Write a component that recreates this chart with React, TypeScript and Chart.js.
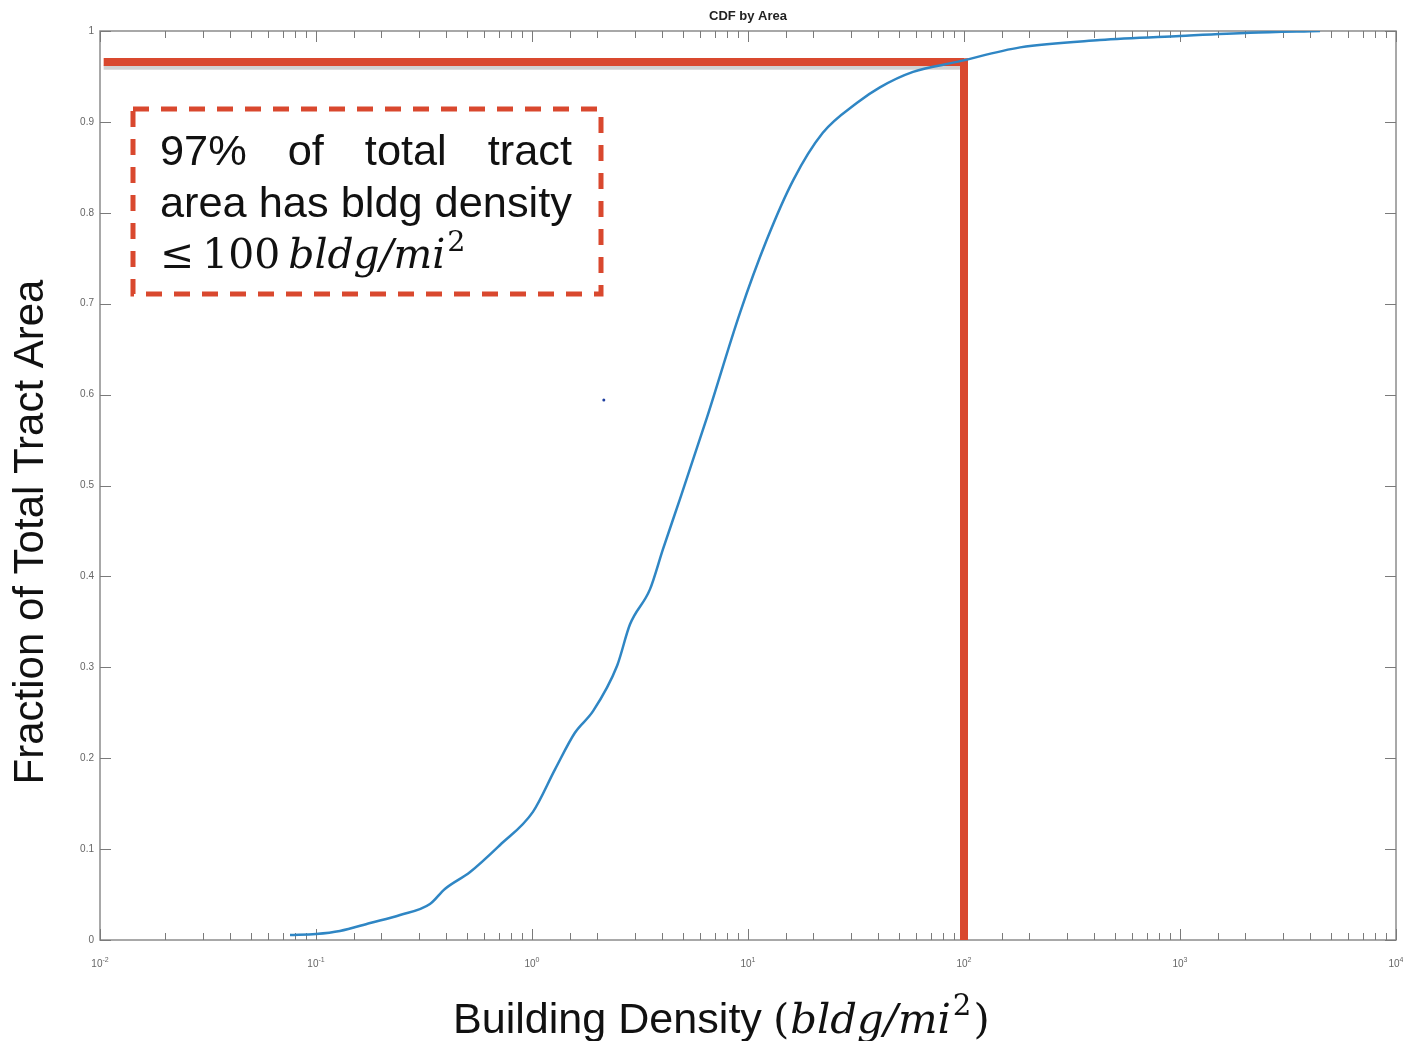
import React, { useEffect, useRef } from "react";
import { Chart, registerables } from "chart.js";

Chart.register(...registerables);

// ---- data ----
const densities = [
  0.0758, 0.1, 0.129, 0.178, 0.245, 0.337, 0.395, 0.517, 0.711, 1.01, 1.28, 1.58,
  1.92, 2.48, 2.84, 3.52, 4.04, 4.84, 6.46, 9.18, 12.2, 16.2, 22.2, 32.0, 40.8,
  58.1, 92.9, 182, 426, 1000, 2110, 4450,
];
const fractions = [
  0.0055, 0.0066, 0.0099, 0.0187, 0.0275, 0.0396, 0.0561, 0.0748, 0.1045, 0.141,
  0.188, 0.228, 0.252, 0.302, 0.347, 0.386, 0.43, 0.485, 0.575, 0.69, 0.77, 0.836,
  0.888, 0.921, 0.938, 0.955, 0.966, 0.982, 0.99, 0.9945, 0.998, 1.0,
];
const refLineHX = [0.0104, 100];
const refLineHY = [0.966, 0.966];
const refShadowY = [0.96, 0.96];
const refLineVX = [100, 100];
const refLineVY = [0, 0.97];
const strayX = [2.15];
const strayY = [0.594];
const xTickDecades = [-2, -1, 0, 1, 2, 3, 4];
const yTickValues = [0, 0.1, 0.2, 0.3, 0.4, 0.5, 0.6, 0.7, 0.8, 0.9, 1];
const titleText = "CDF by Area";
const yAxisTitle = "Fraction of Total Tract Area";
const xAxisTitleSans = "Building Density";
const annotationLine1 = ["97%", "of", "total", "tract"];
const annotationLine2 = "area has bldg density";

const RED = "#d9482e";
const BLUE = "#2f86c4";
const SANS = "'Liberation Sans', Arial, sans-serif";
const SERIF = "'DejaVu Serif', 'Liberation Serif', serif";

function drawMath(ctx: any, parts: { t: string; it?: boolean; sup?: boolean; gap?: number }[], x0: number, base: number, target: number) {
  const measure = (fs: number) => {
    let w = 0;
    parts.forEach((p) => {
      ctx.font = `${p.it ? "italic " : ""}${p.sup ? fs * 0.7 : fs}px ${SERIF}`;
      w += ctx.measureText(p.t).width + (p.gap || 0);
    });
    return w;
  };
  const fs = 40 * target / measure(40);
  let x = x0;
  parts.forEach((p) => {
    ctx.font = `${p.it ? "italic " : ""}${p.sup ? fs * 0.7 : fs}px ${SERIF}`;
    ctx.fillText(p.t, x, p.sup ? base - fs * 0.42 : base);
    x += ctx.measureText(p.t).width + (p.gap || 0);
  });
}

const decoPlugin = {
  id: "deco",
  beforeDraw(chart: any) {
    const ctx = chart.ctx;
    ctx.save();
    ctx.fillStyle = "#ffffff";
    ctx.fillRect(0, 0, chart.width, chart.height);
    ctx.restore();
  },
  beforeDatasetsDraw(chart: any) {
    const ctx = chart.ctx;
    const { left, right, top, bottom } = chart.chartArea;
    const xs = chart.scales.x;
    const ys = chart.scales.y;
    ctx.save();
    ctx.strokeStyle = "#8c8c8c";
    ctx.lineWidth = 1.5;
    ctx.strokeRect(left, top, right - left, bottom - top);
    ctx.lineWidth = 1;
    ctx.strokeStyle = "#7a7a7a";
    xs.ticks.forEach((t: any) => {
      const v = t.value;
      const e = Math.log10(v);
      const major = Math.abs(e - Math.round(e)) < 1e-6;
      const px = Math.round(xs.getPixelForValue(v)) + 0.5;
      const len = major ? 11 : 7;
      ctx.beginPath();
      ctx.moveTo(px, bottom);
      ctx.lineTo(px, bottom - len);
      ctx.moveTo(px, top);
      ctx.lineTo(px, top + len);
      ctx.stroke();
    });
    ys.ticks.forEach((t: any) => {
      const py = Math.round(ys.getPixelForValue(t.value)) + 0.5;
      ctx.beginPath();
      ctx.moveTo(left, py);
      ctx.lineTo(left + 11, py);
      ctx.moveTo(right, py);
      ctx.lineTo(right - 11, py);
      ctx.stroke();
    });
    ctx.fillStyle = "#666";
    ctx.textBaseline = "alphabetic";
    xTickDecades.forEach((n) => {
      const px = xs.getPixelForValue(Math.pow(10, n));
      ctx.font = `10px ${SANS}`;
      const w1 = ctx.measureText("10").width;
      ctx.font = `7px ${SANS}`;
      const w2 = ctx.measureText(String(n)).width;
      const x0 = px - (w1 + w2) / 2;
      ctx.font = `10px ${SANS}`;
      ctx.textAlign = "left";
      ctx.fillText("10", x0, bottom + 27);
      ctx.font = `7px ${SANS}`;
      ctx.fillText(String(n), x0 + w1, bottom + 22);
    });
    ctx.restore();
  },
  afterDraw(chart: any) {
    const ctx = chart.ctx;
    const { left, right, top } = chart.chartArea;
    ctx.save();
    ctx.fillStyle = "#222";
    ctx.font = `bold 13px ${SANS}`;
    ctx.textAlign = "center";
    ctx.textBaseline = "middle";
    ctx.fillText(titleText, (left + right) / 2, 16);

    ctx.save();
    ctx.translate(31, 532);
    ctx.rotate(-Math.PI / 2);
    ctx.font = `42px ${SANS}`;
    ctx.fillStyle = "#111";
    ctx.textAlign = "center";
    ctx.textBaseline = "middle";
    ctx.fillText(yAxisTitle, 0, 0);
    ctx.restore();

    const baseX = 1033;
    ctx.textAlign = "left";
    ctx.textBaseline = "alphabetic";
    ctx.fillStyle = "#111";
    ctx.font = `40px ${SANS}`;
    const ws = ctx.measureText(xAxisTitleSans).width;
    ctx.font = `${40 * 309 / ws}px ${SANS}`;
    ctx.fillText(xAxisTitleSans, 453, baseX);
    drawMath(ctx, [
      { t: "(", gap: 1 },
      { t: "bldg/mi", it: true, gap: 2 },
      { t: "2", sup: true, gap: 2 },
      { t: ")" },
    ], 773, baseX, 217);

    ctx.strokeStyle = RED;
    ctx.lineWidth = 5;
    ctx.setLineDash([16, 12]);
    ctx.strokeRect(left + 33, top + 78, 468, 185);
    ctx.setLineDash([]);

    const tx0 = left + 60;
    const tx1 = left + 472;
    ctx.fillStyle = "#111";
    ctx.font = `40px ${SANS}`;
    const w2 = ctx.measureText(annotationLine2).width;
    const fs = 40 * (tx1 - tx0) / w2;
    ctx.font = `${fs}px ${SANS}`;
    const widths = annotationLine1.map((w) => ctx.measureText(w).width);
    const total = widths.reduce((a, b) => a + b, 0);
    const gap = (tx1 - tx0 - total) / (annotationLine1.length - 1);
    let cx = tx0;
    annotationLine1.forEach((w, i) => {
      ctx.fillText(w, cx, top + 134);
      cx += widths[i] + gap;
    });
    ctx.fillText(annotationLine2, tx0, top + 186);
    drawMath(ctx, [
      { t: "\u2264", gap: 8 },
      { t: "100", gap: 8 },
      { t: "bldg/mi", it: true, gap: 2 },
      { t: "2", sup: true },
    ], tx0, top + 237, 306);
    ctx.restore();
  },
};

export default function App() {
  const ref = useRef<HTMLCanvasElement | null>(null);
  useEffect(() => {
    document.body.style.margin = "0";
    const canvas = ref.current!;
    const pts = (xs: number[], ys: number[]) => xs.map((x, i) => ({ x, y: ys[i] }));
    const chart = new Chart(canvas, {
      type: "line",
      data: {
        datasets: [
          {
            label: "CDF",
            data: pts(densities, fractions),
            borderColor: BLUE,
            borderWidth: 2.5,
            pointRadius: 0,
            cubicInterpolationMode: "monotone",
            order: 0,
          },
          {
            label: "shadow",
            data: pts(refLineHX, refShadowY),
            borderColor: "rgba(140,140,140,0.4)",
            borderWidth: 5,
            pointRadius: 0,
            order: 3,
          },
          {
            label: "refH",
            data: pts(refLineHX, refLineHY),
            borderColor: RED,
            borderWidth: 8,
            pointRadius: 0,
            borderCapStyle: "butt",
            order: 1,
          },
          {
            label: "refV",
            data: pts(refLineVX, refLineVY),
            borderColor: RED,
            borderWidth: 8,
            pointRadius: 0,
            borderCapStyle: "butt",
            order: 1,
          },
          {
            label: "stray",
            data: pts(strayX, strayY),
            showLine: false,
            pointRadius: 1.5,
            pointBackgroundColor: "#1f3fa0",
            pointBorderWidth: 0,
            order: 0,
          },
        ],
      } as any,
      options: {
        animation: false,
        responsive: false,
        devicePixelRatio: 1,
        events: [],
        layout: { padding: { top: 31, right: 7, left: 0, bottom: 0 } },
        plugins: {
          legend: { display: false },
          tooltip: { enabled: false },
          title: { display: false },
        },
        scales: {
          x: {
            type: "logarithmic",
            min: 0.01,
            max: 10000,
            grid: { display: false, drawTicks: false },
            border: { display: false },
            afterFit: (s: any) => { s.height = 101; },
            ticks: { display: false, autoSkip: false },
          },
          y: {
            type: "linear",
            min: 0,
            max: 1,
            grid: { display: false, drawTicks: false },
            border: { display: false },
            afterFit: (s: any) => { s.width = 100; },
            afterBuildTicks: (s: any) => { s.ticks = yTickValues.map((v) => ({ value: v })); },
            ticks: {
              padding: 6,
              color: "#666",
              font: { size: 10, family: SANS },
              callback: (v: any) => String(Number(Number(v).toFixed(1))),
            },
          },
        },
      } as any,
      plugins: [decoPlugin],
    });
    return () => chart.destroy();
  }, []);
  return (
    <canvas
      ref={ref}
      width={1403}
      height={1041}
      style={{ position: "fixed", left: 0, top: 0, width: 1403, height: 1041, display: "block" }}
    />
  );
}
